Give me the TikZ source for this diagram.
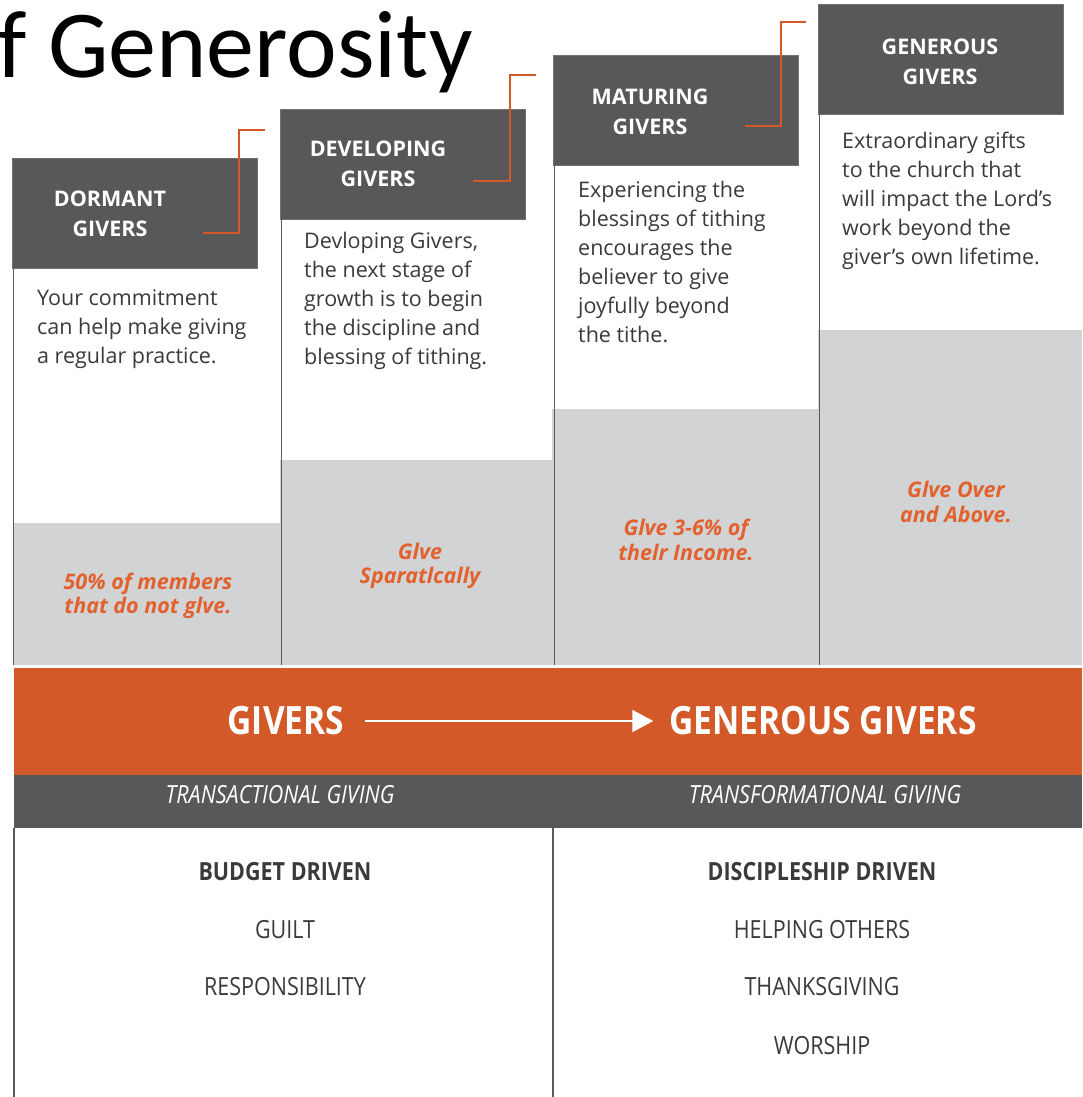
\documentclass[tikz,border=0pt]{standalone}
\usepackage{fontspec}
\usepackage{tikz}
\usetikzlibrary{arrows.meta}
\setmainfont{Open Sans}
\newfontfamily\condfont{Open Sans}[FakeStretch=0.86]
\newfontfamily\titlefont{Carlito}

\definecolor{boxgray}{HTML}{58585A}
\definecolor{fillgray}{HTML}{D1D3D4}
\definecolor{bandorange}{HTML}{D35A28}
\definecolor{rateorange}{HTML}{E2612E}
\definecolor{bodytext}{HTML}{3A3A3A}
\definecolor{linegray}{HTML}{5A5A5A}

\begin{document}
\begin{tikzpicture}[x=1pt,y=-1pt,
    headbox/.style={fill=boxgray,draw=boxgray!85!white,minimum width=245pt,minimum height=110pt,inner sep=0pt},
    headtxt/.style={text=white,align=center,inner sep=0pt,font=\bfseries\fontsize{21.5}{30}\selectfont},
    body/.style={anchor=north west,align=left,inner sep=0pt,text=bodytext,font=\fontsize{21.5}{29}\selectfont},
    rate/.style={align=center,inner sep=0pt,text=rateorange,font=\bfseries\itshape\fontsize{21.5}{24.5}\selectfont},
    tie/.style={draw=bandorange,line width=2pt},
    colline/.style={draw=linegray,line width=1.6pt},
    bandtxt/.style={text=white,inner sep=0pt,font=\condfont\bfseries\fontsize{39}{39}\selectfont},
    subtxt/.style={text=white,inner sep=0pt,font=\condfont\itshape\fontsize{25}{25}\selectfont},
    listtxt/.style={text=bodytext,inner sep=0pt,font=\condfont\fontsize{25}{25}\selectfont}]
  \useasboundingbox (0,0) rectangle (1082,1097);
  \coordinate (base) at (0,665);
  \coordinate (floor) at (0,1097);

  % title
  \node[anchor=base west,inner sep=0pt,font=\titlefont\fontsize{96}{96}\selectfont] (title) at (-3,78) {f Generosity};

  % gray steps
  \fill[fillgray] (14,523) rectangle (280,665);
  \fill[fillgray] (280,460) rectangle (552,665);
  \fill[fillgray] (552,409) rectangle (818,665);
  \fill[fillgray] (818,330) rectangle (1082,665);

  % headers
  \node[headbox] (h1) at (134.5,213.5) {};
  \node[headbox] (h2) at (402.5,164) {};
  \node[headbox] (h3) at (675.5,110) {};
  \node[headbox] (h4) at (940.5,59.5) {};
  \node[headtxt] (n1) at (110,214) {DORMANT\\GIVERS};
  \node[headtxt] (n2) at (378,164) {DEVELOPING\\GIVERS};
  \node[headtxt] (n3) at (650,112) {MATURING\\GIVERS};
  \node[headtxt] (n4) at (940,62) {GENEROUS\\GIVERS};

  % orange ties
  \coordinate (t1a) at (203,233); \coordinate (t1b) at (239,130);
  \coordinate (t2a) at (473,181); \coordinate (t2b) at (510,75);
  \coordinate (t3a) at (745,126); \coordinate (t3b) at (781,22);
  \draw[tie] (t1a) -| (t1b) -- ++(26,0);
  \draw[tie] (t2a) -| (t2b) -- ++(26,0);
  \draw[tie] (t3a) -| (t3b) -- ++(25,0);

  % column lines
  \foreach \h in {h1,h2,h3,h4}
    \draw[colline] ([xshift=1.5pt]\h.south west) -- ([xshift=1.5pt]\h.south west |- base);

  % texts
  \node[body] (b1) at (37,290) {Your commitment\\can help make giving\\a regular practice.};
  \node[body] (b2) at (304,232) {Devloping Givers,\\the next stage of\\growth is to begin\\the discipline and\\blessing of tithing.};
  \node[body] (b3) at (578,181) {Experiencing the\\blessings of tithing\\encourages the\\believer to give\\joyfully beyond\\the tithe.};
  \node[body] (b4) at (842,132) {Extraordinary gifts\\to the church that\\will impact the Lord’s\\work beyond the\\giver’s own lifetime.};

  \node[rate] (r1) at (148,596) {50\% of members\\that do not glve.};
  \node[rate] (r2) at (420,566) {Glve\\Sparatlcally};
  \node[rate] (r3) at (686,540) {Glve 3-6\% of\\thelr Income.};
  \node[rate] (r4) at (956,502) {Glve Over\\and Above.};

  % bands
  \node[fill=bandorange,minimum width=1068pt,minimum height=107pt,inner sep=0pt] (band) at (548,721.5) {};
  \node[fill=boxgray,minimum width=1068pt,minimum height=53pt,inner sep=0pt] (sub) at (548,801.5) {};
  \node[bandtxt] (givers) at (286,721) {GIVERS};
  \node[bandtxt] (gengivers) at (823,721) {GENEROUS GIVERS};
  \draw[white,line width=2pt,-{Triangle[length=21pt,width=22pt]},shorten <=21pt,shorten >=16pt] (givers) -- (gengivers);
  \node[subtxt] (trans) at (280,795) {TRANSACTIONAL GIVING};
  \node[subtxt] (transf) at (825,795) {TRANSFORMATIONAL GIVING};

  % lower part
  \draw[colline] (sub.south west) -- (sub.south west |- floor);
  \draw[colline] (h3.south west |- sub.south) -- (h3.south west |- floor);
  \node[listtxt,font=\condfont\bfseries\fontsize{25}{25}\selectfont] (bud) at (285,872) {BUDGET DRIVEN};
  \node[listtxt] (guilt) at (285,930) {GUILT};
  \node[listtxt] (resp) at (285,987) {RESPONSIBILITY};
  \node[listtxt,font=\condfont\bfseries\fontsize{25}{25}\selectfont] (disc) at (822,872) {DISCIPLESHIP DRIVEN};
  \node[listtxt] (help) at (822,930) {HELPING OTHERS};
  \node[listtxt] (thanks) at (822,987) {THANKSGIVING};
  \node[listtxt] (worship) at (822,1046) {WORSHIP};
\end{tikzpicture}
\end{document}
